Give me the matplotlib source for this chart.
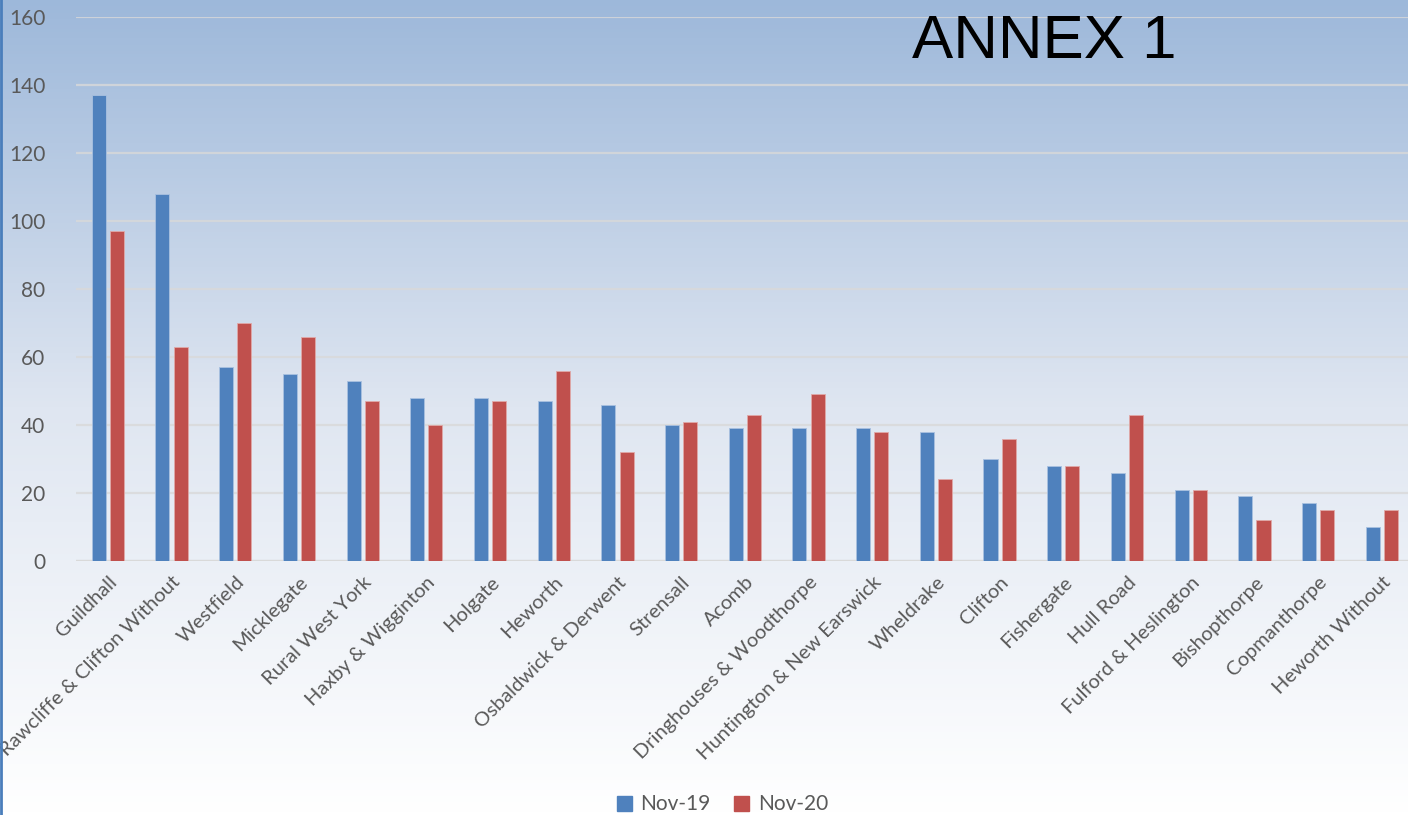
import matplotlib
import numpy as np

matplotlib.use("Agg")
import matplotlib.pyplot as plt
from matplotlib.colors import LinearSegmentedColormap
from matplotlib.lines import Line2D
from matplotlib.patches import Patch

wards = [
    "Guildhall", "Rawcliffe & Clifton Without", "Westfield", "Micklegate",
    "Rural West York", "Haxby & Wigginton", "Holgate", "Heworth",
    "Osbaldwick & Derwent", "Strensall", "Acomb", "Dringhouses & Woodthorpe",
    "Huntington & New Earswick", "Wheldrake", "Clifton", "Fishergate",
    "Hull Road", "Fulford & Heslington", "Bishopthorpe", "Copmanthorpe",
    "Heworth Without",
]
nov19 = [137, 108, 57, 55, 53, 48, 48, 47, 46, 40, 39, 39, 39, 38, 30, 28, 26, 21, 19, 17, 10]
nov20 = [97, 63, 70, 66, 47, 40, 47, 56, 32, 41, 43, 49, 38, 24, 36, 28, 43, 21, 12, 15, 15]
series_names = ["Nov-19", "Nov-20"]

BLUE = "#4f81bd"
RED = "#c0504d"
TXT = "#595959"
FONT = ["Lato", "DejaVu Sans"]

fig = plt.figure(figsize=(14.08, 8.15), dpi=100)

# gradient background over the whole figure
bg = fig.add_axes([0, 0, 1, 1], zorder=-10)
cmap = LinearSegmentedColormap.from_list("bg", ["#9db8da", "#dfe6f1", "#ffffff"])
grad = np.linspace(0, 1, 256).reshape(-1, 1)
bg.imshow(grad, aspect="auto", cmap=cmap, extent=[0, 1, 0, 1], origin="upper")
bg.set_axis_off()
fig.add_artist(Line2D([0.001, 0.001], [0, 1], color="#4a7ebb", linewidth=2, transform=fig.transFigure))

ax = fig.add_axes([0.054, 0.3117, 0.95, 0.6674])
ax.patch.set_alpha(0)
x = np.arange(len(wards))
w = 0.22
ax.bar(x - 0.143, nov19, width=w, color=BLUE, edgecolor="#a9c1e0", linewidth=0.6, zorder=3)
ax.bar(x + 0.143, nov20, width=w, color=RED, edgecolor="#e0a9a8", linewidth=0.6, zorder=3)

ax.set_xlim(-0.5, len(wards) - 0.5)
ax.set_ylim(0, 160)
ax.set_yticks(range(0, 161, 20))
ax.yaxis.grid(True, color="#d9d9d9", linewidth=1.6, alpha=0.8, zorder=0)
ax.axhline(0, color="#d9d9d9", linewidth=1.6, zorder=2)
for s in ax.spines.values():
    s.set_visible(False)
ax.tick_params(axis="both", length=0, colors=TXT)
ax.tick_params(axis="y", pad=22, labelsize=15)
ax.tick_params(axis="x", pad=9)
ax.set_xticks(x)
ax.set_xticklabels(wards, rotation=45, ha="right", rotation_mode="anchor", fontsize=14.5, color=TXT)
for lab in ax.get_xticklabels() + ax.get_yticklabels():
    lab.set_family(FONT)

fig.text(0.742, 0.929, "ANNEX 1", fontsize=44.5, family=["Liberation Sans", "DejaVu Sans"],
         ha="center", va="baseline", color="black")

handles = [Patch(color=BLUE), Patch(color=RED)]
fig.legend(handles, series_names, loc="center", bbox_to_anchor=(0.513, 0.013), ncol=2,
           frameon=False, handlelength=0.75, handleheight=0.75, handletextpad=0.4,
           columnspacing=1.1, prop={"family": FONT, "size": 15}, labelcolor=TXT)

fig.savefig("out.png", dpi=100)
